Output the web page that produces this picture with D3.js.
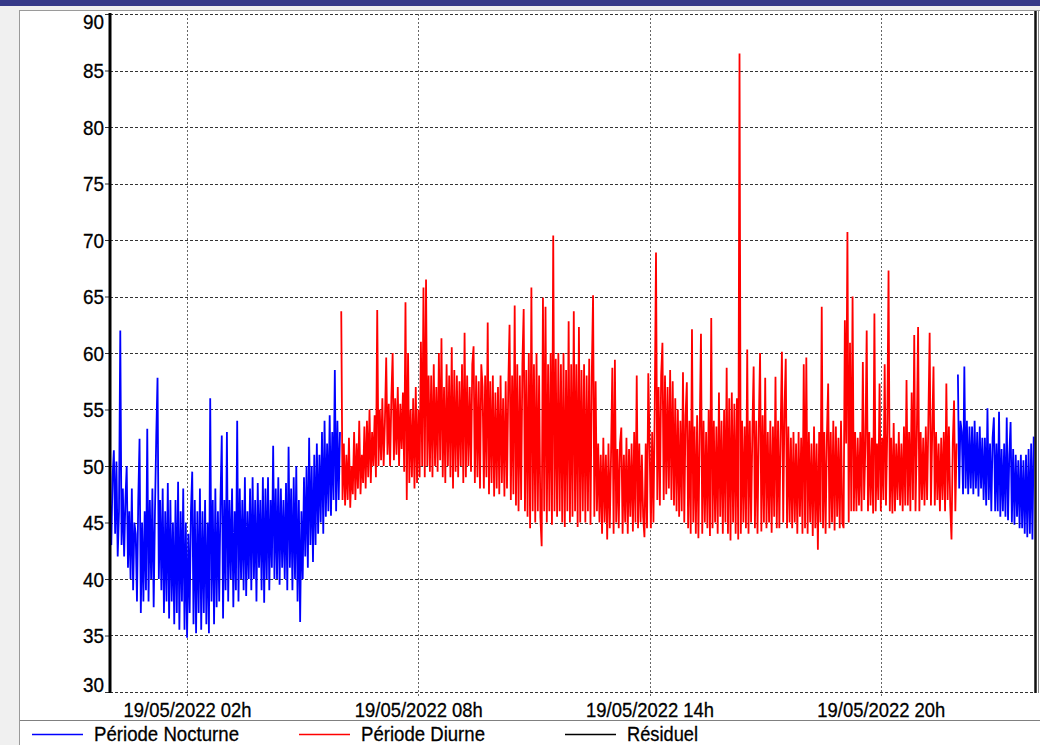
<!DOCTYPE html>
<html><head><meta charset="utf-8">
<script src="https://cdn.jsdelivr.net/npm/d3@7"></script>
<style>body{margin:0;background:#f0f0f0;overflow:hidden}svg{display:block}</style>
</head><body><svg id="c" width="1040" height="745"></svg>
<script>
// ---- data ----
const yTicks = [30,35,40,45,50,55,60,65,70,75,80,85,90];
const xTickMinutes = [120,480,840,1200];
const xTickLabels = ["19/05/2022 02h","19/05/2022 08h","19/05/2022 14h","19/05/2022 20h"];
const seriesNames = ["Période Nocturne","Période Diurne","Résiduel"];
const seriesColors = ["#0000ff","#ff0000","#000000"];
const stepMinutes = 2;
const nocturne1Start = 0, diurneStart = 360, nocturne2Start = 1320;

const nocturne1 = [
47,43,49,51.4,44,50.4,42,46,62,43,
48,42,47,50,41,46,40,48,39,45,
44,38,47,52.4,37,45,38,46,39,53.3,
38,47,40,48,37.5,46,52.6,57.8,40,47,
39,48,37,46,38,48.5,36.5,47,38,45,
36,47,37,48.6,35.5,46,38,48,35.5,45,
34.8,44,37,46,49.5,36,47,35.2,46,37,
48,35.5,46,37,47,36,45,35.2,56,38,
47,36,48,37.5,46,38,47,52.7,36.5,47,
39,53,38,47,40,48,37.5,46,39,54,
38,48,40,47,39,49,38.5,46,40,48,
39,49,40,47,38,48.5,41,47,39,49,
37.9,48,40,49,39,47,41,51.8,40,48,
40,49,39.5,48,41,47,40,48.5,39,51.7,
41,48,39,49,40,50,38,47,36.2,46,
40,49,42,50,41,52.5,43,50,41.5,51,
43,52,44,51,45,53,44,54,45.5,52,
46,54.5,45.6,53,47,58.5,46,54,47,53
];

const diurne = [
63.7,47,52,46.5,51,47,52.5,46.3,50,47.5,
53,47,52,48,54,47.5,51,48.5,53.5,48,
54,49,55,48.5,53,50,54.5,49,63.8,50,
55,50.5,56,50,54,59.6,51,55.5,50,56,
60,50.5,56,51,57,50,55.5,51.5,56.5,49.5,
64.5,47,60,48.5,55,49,56,48,57,48.5,
55,49,61,50,65.8,49,66.5,50,58,49.5,
58,49,59,50,57,49.5,60,50.5,61.3,49,
57,48.5,59,50,58,49,60.5,48,58.5,49.5,
58,49,57.5,50,59,48.5,61.8,49,58,50,
57,49.5,59,60.6,48.5,58,49,57.5,48,59,
57,48,58,49,62.7,47.5,57.5,48.5,58,47.3,
56.5,48,57,47.5,58,48.5,56,47.3,57.5,48,
57,62.5,47,58,47.5,64.2,46.5,59,46,58,
47,59,63.9,46,58.5,45.5,60,44.5,65.8,46,
59,45,60,46,58,45.5,42.9,64.9,46,64.1,
45,59,46,60,44.8,70.4,46,59.5,45.5,60,
46,59,45,60,44.6,58.5,46,62.8,45,59,
45.5,63.7,46,59,44.6,62.3,45,58.5,46,59,
45,58,46,59.5,44.8,58,65.1,45.5,57.5,46,
52,45,51,44,52.5,45,51,43.5,52,44.5,
51,58.7,44,59.4,45,51.5,44.5,52,53.4,44,
51,45,52.5,44,51.5,45.5,52,44.2,53,45,
58,44.5,52,45,51,45.5,43.7,52,44.5,58.2,
52,44.5,53,45,55,68.9,47,57,46.5,58,
60.9,47,58,47.5,57,48,58.5,47,57.5,46.5,
56,46,55,45.5,54,46,58.3,45,54.5,57.4,
44.5,54,44,62.1,45,53.5,44,54.5,43.6,53,
61.7,44,54,45,53,44.5,55,43.8,63.1,44.5,
54,45,53.5,44,56.5,45.5,54,44,55,45,
58.7,44,56,43.4,56.5,45,55.5,44,56,43.5,
86.5,44,54,45,53.5,44.5,60.3,44,54,45,
53,58.8,44.5,54,44,53.5,60,44.2,54.5,45,
57.8,44.5,53,45,54,44.1,53.5,45.5,57.9,44.5,
54,44.5,53,60.1,45,55,59.5,44.5,53.5,45,
52.5,44.5,53,45,52,44,53,45.5,52.5,44,
59,44.5,59.6,44,53,45,52,43.8,53.5,44.5,
52,42.6,53,45,64.1,44.5,53,44,52.5,57.3,
44.5,53,45,54,44.3,53.5,45.5,52.5,44.5,54,
45,44.5,62.9,52,70.7,45,60.9,46,65,46,
53,46,52.5,46.5,53,46,59.2,47,52,62,
46,53,46.5,52.5,45.8,63.5,46,52,47,57.3,
46,52.5,47,59,46.5,53,67.3,46,52.5,45.8,
53.8,46,52,47,53,46.5,52,46,53.5,46.5,
57.6,46.5,53,46,56.5,47,61.6,46,52.5,62.3,
46,53,47,52.5,46.5,53.5,47,54,61.8,46.5,
53,58.8,46.5,53,47,52,46,52.5,47,53,
46,57.3,47,53.5,46.5,43.5,52,55.8,46,52
];

const nocturne2 = [
58.1,48,54,53,47.5,58.8,48,54,47.5,53.5,
48,53.5,47.5,54,48,53,47.3,53.5,48,52.5,
47,52.5,46.5,55.1,47,52,46,52.5,54.3,46,
52,46,54.8,45.5,51.5,46,52,45.5,54.3,45.2,
51,53.9,45,51.5,44.8,51,45.5,50.5,44.5,51,
44.5,50.5,44,51,43.7,51.5,44,52,43.5,52.6
];
const residuel = [];

// ---- drawing ----
const W = 1040, H = 745;
const FONT = "'Liberation Sans', Arial, sans-serif";
const svg = d3.select("#c");
svg.append("rect").attr("width", W).attr("height", H).attr("fill", "#f0f0f0");
svg.append("rect").attr("width", W).attr("height", 6).attr("fill", "#363a89");
svg.append("rect").attr("x", 19.5).attr("y", 10.5).attr("width", 1030).attr("height", 740)
  .attr("fill", "#fff").attr("stroke", "#9a9a9a");

const plot = {left: 110, right: 1035, top: 14, bottom: 692};
const x = d3.scaleLinear().domain([0, 1440]).range([plot.left, plot.right]);
const y = d3.scaleLinear().domain([30, 90]).range([plot.bottom, plot.top]);
const crisp = v => Math.round(v) + 0.5;

// horizontal grid
svg.append("g").selectAll("line").data(yTicks).join("line")
  .attr("x1", plot.left).attr("x2", plot.right)
  .attr("y1", d => crisp(y(d))).attr("y2", d => crisp(y(d)))
  .attr("stroke", "#333").attr("stroke-width", 1).attr("stroke-dasharray", "3,2");

// vertical grid
svg.append("g").selectAll("line").data(xTickMinutes).join("line")
  .attr("x1", d => crisp(x(d))).attr("x2", d => crisp(x(d)))
  .attr("y1", plot.top).attr("y2", plot.bottom + 6)
  .attr("stroke", "#666").attr("stroke-width", 1).attr("stroke-dasharray", "2,2");

// series
const line = d3.line().x(d => x(d.t)).y(d => y(d.v));
const toPts = (arr, start) => arr.map((v, i) => ({t: start + i * stepMinutes, v}));
const series = [
  {data: toPts(nocturne1, nocturne1Start), color: seriesColors[0]},
  {data: toPts(diurne, diurneStart), color: seriesColors[1]},
  {data: toPts(nocturne2, nocturne2Start), color: seriesColors[0]},
  {data: toPts(residuel, 0), color: seriesColors[2]}
];
svg.append("defs").append("clipPath").attr("id", "clip").append("rect")
  .attr("x", plot.left).attr("y", plot.top).attr("width", plot.right - plot.left).attr("height", plot.bottom - plot.top);
svg.append("g").attr("clip-path", "url(#clip)").selectAll("path").data(series.filter(s => s.data.length)).join("path")
  .attr("d", s => line(s.data)).attr("fill", "none").attr("stroke", s => s.color)
  .attr("stroke-width", 1.8).attr("stroke-linejoin", "bevel");

// y axis
const yAxis = svg.append("g").attr("transform", `translate(${plot.left},0)`)
  .call(d3.axisLeft(y).tickValues(yTicks).tickSize(5).tickPadding(1));
yAxis.select(".domain").remove();
yAxis.selectAll(".tick line").attr("stroke", "#333");
yAxis.selectAll(".tick text").attr("font-family", FONT).attr("font-size", 21).attr("fill", "#000")
  .attr("stroke", "#000").attr("stroke-width", 0.3)
  .attr("textLength", 21).attr("lengthAdjust", "spacingAndGlyphs")
  .attr("dy", d => d === 90 ? "0.7em" : d === 30 ? "-0.02em" : "0.35em");
svg.append("line").attr("x1", plot.left).attr("x2", plot.left).attr("y1", plot.top - 1).attr("y2", plot.bottom + 1)
  .attr("stroke", "#000").attr("stroke-width", 3);

// x axis labels
const xAxis = svg.append("g").attr("transform", `translate(0,${plot.bottom})`)
  .call(d3.axisBottom(x).tickValues(xTickMinutes).tickFormat((d, i) => xTickLabels[i]).tickSize(0).tickPadding(10));
xAxis.select(".domain").remove();
xAxis.selectAll(".tick text").attr("font-family", FONT).attr("font-size", 21).attr("fill", "#000")
  .attr("stroke", "#000").attr("stroke-width", 0.3)
  .attr("textLength", 128).attr("lengthAdjust", "spacingAndGlyphs");

// right border
svg.append("line").attr("x1", 1035.5).attr("x2", 1035.5).attr("y1", 11).attr("y2", plot.bottom + 1)
  .attr("stroke", "#111").attr("stroke-width", 2.5);
svg.append("line").attr("x1", 1038.5).attr("x2", 1038.5).attr("y1", 11).attr("y2", plot.bottom + 1)
  .attr("stroke", "#888").attr("stroke-width", 1);

// legend
svg.append("line").attr("x1", 20).attr("x2", W).attr("y1", 720.5).attr("y2", 720.5).attr("stroke", "#808080");
const legendX = [32, 299, 565];
const legendTextLen = [145, 124, 71];
const lg = svg.append("g").selectAll("g").data(seriesNames).join("g")
  .attr("transform", (d, i) => `translate(${legendX[i]},0)`);
lg.append("line").attr("x1", 0).attr("x2", 51).attr("y1", 734.5).attr("y2", 734.5)
  .attr("stroke", (d, i) => seriesColors[i]).attr("stroke-width", 1.5);
lg.append("text").attr("x", 62).attr("y", 741).text(d => d)
  .attr("font-family", FONT).attr("font-size", 21).attr("fill", "#000")
  .attr("stroke", "#000").attr("stroke-width", 0.3)
  .attr("textLength", (d, i) => legendTextLen[i]).attr("lengthAdjust", "spacingAndGlyphs");
</script>
</body></html>
